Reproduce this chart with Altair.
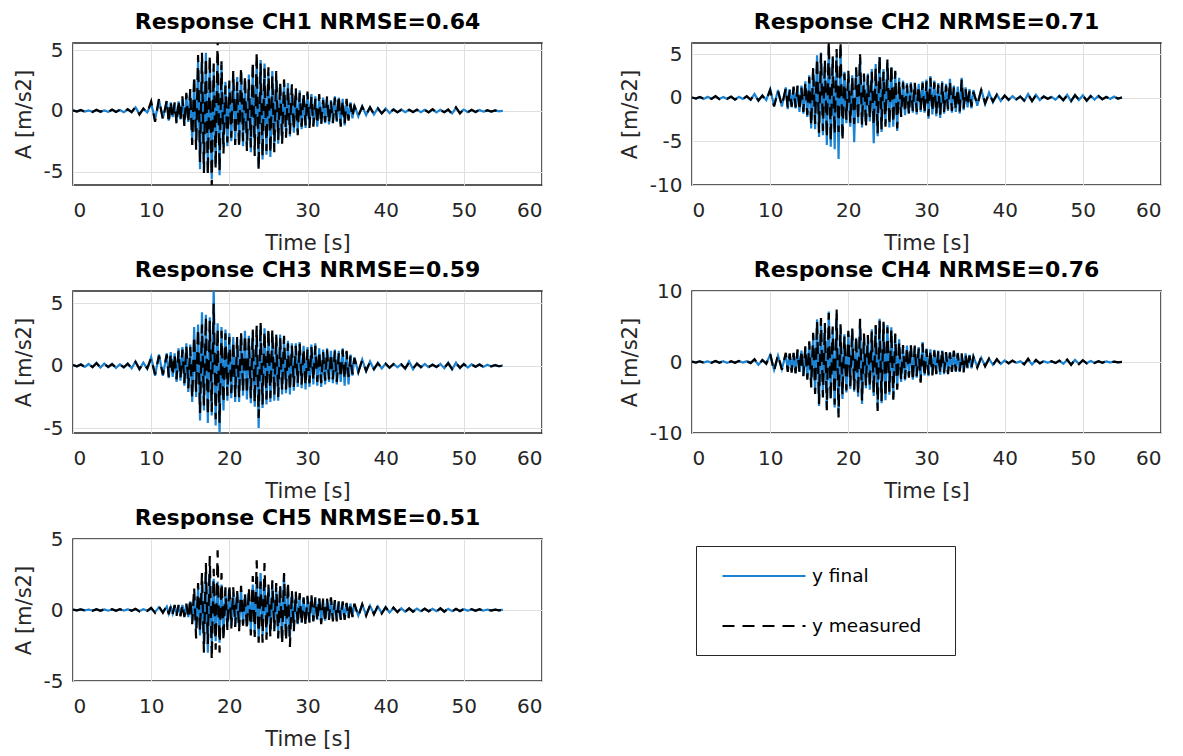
import altair as alt
import pandas as pd

# ---------------------------------------------------------------- sampling grid
# (start [s], step [s], number of samples) for the three parts of every record
SEGMENTS = [(0.0, 0.5, 25), (12.25, 0.25, 96), (36.5, 0.5, 38)]
time_s = [round(s + k * d, 2) for s, d, n in SEGMENTS for k in range(n)]

SERIES = ["y final", "y measured"]
channels = ["CH1", "CH2", "CH3", "CH4", "CH5"]
nrmse = [0.64, 0.71, 0.59, 0.76, 0.51]
x_ticks = [0, 10, 20, 30, 40, 50, 60]
y_domains = [[-6.1, 5.6], [-10, 6.3], [-5.4, 6.0], [-10, 10], [-5, 5]]
y_ticks = [[-5, 0, 5], [-10, -5, 0, 5], [-5, 0, 5], [-10, 0, 10], [-5, 0, 5]]

# ---------------------------------------------------------------- CH1
ch1_final = [
    0.03, -0.04, 0.06, -0.05, 0.04,
    -0.06, 0.08, -0.06, 0.05, -0.08,
    0.1, -0.07, 0.08, -0.1, 0.12,
    -0.09, 0.3, -0.25, 0.18, -0.12,
    0.6, -0.7, 0.9, -0.6, 0.8,
] + [
    -0.8, 0.7, -0.5, 0.6,
    -0.9, 0.8, -0.7, 1.0,
    -1.1, 1.3, -0.9, 1.6,
    -2.5, 2.6, -2.9, 4.2,
    -4.8, 4.4, -4.9, 4.8,
    -5.0, 4.2, -5.6, 3.5,
    -4.4, 4.5, -5.3, 3.8,
    -3.0, 2.4, -2.9, 2.2,
    -2.5, 3.0, -2.4, 2.8,
    -2.8, 3.2, -2.9, 2.5,
    -2.9, 3.0, -3.4, 3.6,
    -3.2, 4.1, -4.6, 4.2,
    -4.0, 3.9, -3.6, 3.2,
    -3.8, 3.3, -3.0, 2.9,
    -2.7, 2.2, -2.4, 2.3,
    -1.9, 2.3, -2.1, 1.9,
    -1.8, 1.6, -1.7, 1.7,
    -1.5, 1.3, -1.4, 1.4,
    -1.2, 1.4, -1.1, 1.2,
    -1.3, 1.1, -1.0, 1.1,
    -1.0, 1.0, -1.1, 0.9,
    -0.9, 1.2, -0.9, 1.1,
    -1.1, 1.0, -1.2, 0.8,
    -0.7, 0.7, -0.6, 0.5,
] + [
    -0.45, 0.4, -0.35, 0.3, -0.3, 0.25, -0.2, 0.2,
    -0.18, 0.15, -0.12, 0.12, -0.1, 0.1, -0.1, 0.12,
    -0.1, 0.1, -0.1, 0.12, -0.12, 0.1, -0.1, 0.1,
    -0.2, 0.25, -0.15, 0.12, -0.1, 0.08, -0.1, 0.08,
    -0.06, 0.05, -0.05, 0.04, -0.03, 0.02,
]
ch1_measured = [
    0.05, -0.05, 0.08, -0.06, 0.05,
    -0.08, 0.1, -0.07, 0.06, -0.1,
    0.12, -0.08, 0.1, -0.12, 0.15,
    -0.1, 0.35, -0.3, 0.2, -0.15,
    0.8, -0.9, 1.0, -0.7, 0.9,
] + [
    -1.0, 0.8, -0.6, 0.7,
    -1.1, 0.9, -0.8, 1.2,
    -1.3, 1.5, -1.0, 1.8,
    -2.8, 2.9, -3.2, 4.6,
    -4.2, 4.8, -5.1, 4.4,
    -5.3, 4.6, -6.2, 3.9,
    -4.8, 6.0, -5.0, 4.1,
    -3.5, 2.1, -2.6, 2.5,
    -2.2, 3.3, -2.8, 2.4,
    -3.0, 3.6, -2.5, 2.9,
    -3.3, 2.6, -3.0, 4.1,
    -3.7, 4.9, -4.9, 3.9,
    -3.8, 3.5, -3.3, 3.6,
    -3.5, 2.9, -3.4, 3.3,
    -2.4, 2.4, -2.7, 2.6,
    -2.2, 2.0, -1.9, 2.2,
    -1.6, 1.9, -2.0, 1.5,
    -1.3, 1.5, -1.2, 1.6,
    -1.4, 1.2, -1.3, 1.0,
    -1.1, 1.4, -1.2, 0.9,
    -0.9, 1.2, -1.0, 0.8,
    -1.0, 1.1, -0.8, 1.3,
    -1.3, 0.9, -1.1, 1.0,
    -0.8, 0.6, -0.5, 0.4,
] + [
    -0.4, 0.35, -0.3, 0.3, -0.25, 0.2, -0.2, 0.15,
    -0.15, 0.12, -0.1, 0.1, -0.12, 0.1, -0.08, 0.1,
    -0.1, 0.08, -0.12, 0.15, -0.1, 0.08, -0.1, 0.12,
    -0.25, 0.3, -0.2, 0.15, -0.12, 0.1, -0.08, 0.1,
    -0.1, 0.06, -0.05, 0.05, -0.04, 0.02,
]

# ---------------------------------------------------------------- CH2
ch2_final = [
    0.04, -0.06, 0.08, -0.12, 0.12,
    -0.1, 0.18, -0.12, 0.1, -0.12,
    0.12, -0.18, 0.12, -0.12, 0.18,
    -0.22, 0.45, -0.35, 0.3, -0.25,
    1.0, -0.9, 0.9, -1.0, 1.2,
] + [
    -1.3, 1.0, -1.1, 1.2,
    -1.2, 1.3, -1.6, 1.4,
    -1.8, 1.9, -2.2, 2.6,
    -3.5, 3.3, -3.6, 4.9,
    -4.5, 5.2, -4.3, 4.0,
    -5.4, 6.0, -5.6, 4.5,
    -5.9, 4.9, -7.0, 5.6,
    -4.3, 3.0, -2.9, 2.7,
    -3.3, 2.6, -5.1, 3.2,
    -2.9, 4.6, -3.4, 2.5,
    -3.0, 2.8, -2.7, 3.3,
    -5.2, 3.9, -4.4, 4.7,
    -3.9, 3.3, -3.0, 4.0,
    -3.4, 3.5, -3.3, 2.9,
    -3.8, 2.3, -2.0, 2.0,
    -2.0, 1.7, -1.8, 1.8,
    -1.7, 1.6, -1.9, 1.6,
    -1.6, 1.9, -1.7, 2.1,
    -2.4, 2.5, -1.9, 2.0,
    -2.1, 1.7, -2.3, 1.9,
    -1.8, 1.6, -1.5, 2.2,
    -1.7, 1.4, -1.6, 1.3,
    -1.8, 2.3, -1.4, 1.2,
    -1.1, 1.0, -1.2, 0.9,
] + [
    -0.9, 1.0, -0.7, 0.6, -0.5, 0.4, -0.35, 0.3,
    -0.25, 0.2, -0.2, 0.18, -0.35, 0.45, -0.4, 0.35,
    -0.25, 0.2, -0.12, 0.12, -0.2, 0.25, -0.3, 0.35,
    -0.4, 0.35, -0.25, 0.3, -0.35, 0.25, -0.2, 0.25,
    -0.18, 0.12, -0.12, 0.15, -0.1, 0.06,
]
ch2_measured = [
    0.05, -0.08, 0.1, -0.1, 0.15,
    -0.12, 0.2, -0.15, 0.12, -0.1,
    0.15, -0.2, 0.1, -0.15, 0.2,
    -0.2, 0.4, -0.3, 0.25, -0.3,
    0.9, -1.0, 0.8, -0.9, 1.1,
] + [
    -1.2, 0.9, -1.0, 1.3,
    -1.1, 1.4, -1.5, 1.2,
    -1.6, 1.8, -2.0, 2.4,
    -3.2, 3.5, -3.0, 4.6,
    -4.0, 5.1, -3.8, 4.4,
    -4.6, 6.5, -5.0, 4.8,
    -4.2, 5.6, -3.9, 6.5,
    -5.0, 2.8, -2.5, 3.1,
    -2.9, 2.4, -3.0, 3.5,
    -2.6, 5.0, -3.1, 2.8,
    -3.4, 2.6, -2.4, 3.0,
    -3.2, 3.5, -4.1, 4.9,
    -3.6, 3.0, -3.3, 4.4,
    -3.1, 3.8, -2.9, 3.1,
    -3.5, 2.0, -2.2, 1.8,
    -1.7, 1.5, -1.9, 1.6,
    -1.5, 1.8, -1.6, 1.4,
    -1.4, 1.7, -1.8, 1.9,
    -2.1, 2.3, -1.6, 1.8,
    -1.9, 1.5, -2.0, 1.7,
    -1.6, 1.4, -1.3, 1.9,
    -1.5, 1.2, -1.4, 1.1,
    -1.6, 2.1, -1.2, 1.0,
    -0.9, 0.8, -1.0, 0.7,
] + [
    -0.8, 0.9, -0.6, 0.5, -0.4, 0.35, -0.3, 0.25,
    -0.2, 0.2, -0.15, 0.15, -0.3, 0.4, -0.35, 0.3,
    -0.2, 0.15, -0.1, 0.1, -0.15, 0.2, -0.25, 0.3,
    -0.35, 0.3, -0.2, 0.25, -0.3, 0.2, -0.15, 0.2,
    -0.15, 0.1, -0.1, 0.12, -0.08, 0.05,
]

# ---------------------------------------------------------------- CH3
ch3_final = [
    0.06, -0.06, 0.12, -0.1, 0.15,
    -0.12, 0.25, -0.15, 0.18, -0.12,
    0.15, -0.18, 0.12, -0.15, 0.18,
    -0.2, 0.35, -0.3, 0.25, -0.25,
    0.7, -0.8, 0.9, -0.8, 1.0,
] + [
    -1.0, 1.1, -0.9, 1.0,
    -1.3, 1.4, -1.2, 1.5,
    -1.6, 1.8, -2.1, 1.7,
    -2.9, 3.1, -2.5, 3.3,
    -4.4, 4.3, -3.6, 4.1,
    -4.6, 3.9, -4.0, 6.2,
    -4.8, 3.4, -5.6, 3.1,
    -3.6, 2.9, -2.8, 2.6,
    -2.6, 2.3, -2.9, 2.1,
    -2.9, 2.5, -2.4, 2.8,
    -2.7, 2.4, -3.0, 2.7,
    -3.3, 2.9, -5.0, 3.2,
    -3.4, 3.0, -3.1, 2.7,
    -2.9, 2.6, -2.8, 2.3,
    -2.8, 2.5, -2.3, 2.2,
    -2.2, 2.0, -2.3, 1.8,
    -2.0, 1.8, -1.7, 1.9,
    -1.8, 1.6, -1.9, 1.5,
    -1.7, 1.7, -1.5, 1.8,
    -1.6, 1.4, -1.7, 1.3,
    -1.5, 1.4, -1.3, 1.2,
    -1.4, 1.3, -1.5, 1.2,
    -1.3, 1.4, -1.6, 1.1,
    -1.5, 0.9, -0.8, 0.7,
] + [
    -0.55, 0.5, -0.45, 0.35, -0.3, 0.25, -0.22, 0.18,
    -0.18, 0.15, -0.12, 0.12, -0.25, 0.35, -0.28, 0.2,
    -0.15, 0.15, -0.12, 0.1, -0.12, 0.15, -0.2, 0.25,
    -0.3, 0.25, -0.2, 0.15, -0.15, 0.12, -0.1, 0.12,
    -0.1, 0.08, -0.06, 0.06, -0.05, 0.03,
]
ch3_measured = [
    0.05, -0.05, 0.1, -0.08, 0.12,
    -0.1, 0.2, -0.12, 0.15, -0.1,
    0.12, -0.15, 0.1, -0.12, 0.15,
    -0.18, 0.3, -0.25, 0.2, -0.2,
    0.6, -0.7, 0.8, -0.7, 0.9,
] + [
    -0.9, 1.0, -0.8, 0.9,
    -1.1, 1.2, -1.0, 1.3,
    -1.4, 1.6, -1.8, 1.5,
    -2.6, 2.4, -2.1, 3.0,
    -3.8, 3.3, -3.2, 3.9,
    -4.0, 3.6, -3.7, 5.0,
    -4.3, 3.0, -4.6, 2.8,
    -3.0, 2.6, -2.4, 2.3,
    -2.2, 2.0, -2.5, 2.3,
    -2.6, 2.7, -2.1, 2.5,
    -2.3, 2.2, -2.6, 2.9,
    -3.0, 3.2, -4.2, 3.5,
    -3.1, 2.8, -2.7, 3.0,
    -2.6, 2.9, -2.4, 2.5,
    -2.5, 2.2, -2.0, 2.4,
    -1.9, 1.8, -2.0, 1.6,
    -1.7, 1.6, -1.4, 1.8,
    -1.5, 1.4, -1.6, 1.3,
    -1.4, 1.5, -1.2, 1.6,
    -1.3, 1.2, -1.4, 1.1,
    -1.2, 1.3, -1.1, 1.0,
    -1.1, 1.2, -1.3, 1.0,
    -1.0, 1.3, -1.1, 1.2,
    -0.9, 0.8, -0.7, 0.6,
] + [
    -0.5, 0.45, -0.4, 0.3, -0.25, 0.2, -0.2, 0.15,
    -0.15, 0.12, -0.1, 0.1, -0.2, 0.25, -0.2, 0.15,
    -0.1, 0.12, -0.1, 0.08, -0.1, 0.12, -0.15, 0.2,
    -0.25, 0.2, -0.15, 0.12, -0.12, 0.1, -0.08, 0.1,
    -0.08, 0.06, -0.05, 0.05, -0.04, 0.02,
]

# ---------------------------------------------------------------- CH4
ch4_final = [
    0.04, -0.06, 0.08, -0.08, 0.1,
    -0.1, 0.12, -0.08, 0.1, -0.12,
    0.08, -0.1, 0.12, -0.08, 0.1,
    -0.12, 0.35, -0.4, 0.25, -0.2,
    1.0, -1.1, 0.9, -1.0, 1.1,
] + [
    -1.2, 1.1, -1.3, 1.2,
    -1.5, 1.6, -1.4, 1.6,
    -1.9, 2.0, -2.3, 2.7,
    -3.3, 3.8, -4.2, 6.0,
    -6.2, 5.9, -4.6, 5.2,
    -6.5, 7.1, -5.1, 4.6,
    -6.4, 6.8, -7.2, 4.9,
    -5.2, 3.9, -4.3, 4.0,
    -3.8, 4.5, -4.2, 3.4,
    -4.9, 5.8, -5.9, 3.7,
    -3.7, 3.5, -3.9, 4.6,
    -4.8, 5.0, -6.5, 6.1,
    -5.8, 5.4, -5.4, 5.2,
    -4.6, 4.9, -5.0, 3.8,
    -3.6, 3.2, -2.8, 2.2,
    -2.6, 2.3, -2.0, 2.3,
    -2.5, 2.1, -2.2, 2.1,
    -2.7, 2.8, -1.9, 1.9,
    -2.0, 1.8, -1.7, 1.7,
    -1.6, 1.6, -1.8, 1.6,
    -1.7, 1.3, -1.5, 1.4,
    -1.3, 1.5, -1.4, 1.3,
    -1.4, 1.1, -1.3, 1.2,
    -0.9, 1.0, -0.9, 0.8,
] + [
    -0.7, 0.6, -0.55, 0.45, -0.4, 0.35, -0.28, 0.22,
    -0.18, 0.18, -0.12, 0.1, -0.3, 0.4, -0.35, 0.25,
    -0.18, 0.12, -0.1, 0.08, -0.12, 0.18, -0.25, 0.3,
    -0.35, 0.3, -0.25, 0.2, -0.18, 0.15, -0.12, 0.1,
    -0.08, 0.08, -0.06, 0.05, -0.04, 0.02,
]
ch4_measured = [
    0.05, -0.08, 0.1, -0.1, 0.12,
    -0.12, 0.15, -0.1, 0.12, -0.15,
    0.1, -0.12, 0.15, -0.1, 0.12,
    -0.15, 0.4, -0.45, 0.3, -0.25,
    1.2, -1.3, 1.0, -1.1, 1.3,
] + [
    -1.4, 1.2, -1.5, 1.3,
    -1.6, 1.8, -1.5, 1.7,
    -2.0, 2.2, -2.5, 2.9,
    -3.6, 4.1, -4.5, 5.8,
    -5.9, 6.2, -5.0, 5.5,
    -6.8, 6.9, -5.4, 5.0,
    -6.0, 7.4, -7.8, 5.3,
    -4.7, 3.6, -4.0, 4.4,
    -3.4, 4.8, -3.9, 3.7,
    -4.6, 6.1, -5.5, 4.0,
    -3.3, 3.8, -3.6, 4.3,
    -4.5, 5.2, -6.9, 5.9,
    -5.5, 5.7, -5.0, 4.9,
    -4.2, 4.6, -5.3, 4.0,
    -3.9, 2.9, -2.6, 2.4,
    -2.4, 2.1, -2.2, 2.5,
    -2.7, 2.3, -2.0, 1.9,
    -2.9, 2.6, -2.1, 1.8,
    -1.8, 1.7, -1.9, 1.6,
    -1.7, 1.5, -1.6, 1.8,
    -1.5, 1.4, -1.7, 1.3,
    -1.4, 1.6, -1.3, 1.2,
    -1.3, 1.2, -1.5, 1.1,
    -1.0, 0.9, -0.8, 0.7,
] + [
    -0.8, 0.7, -0.6, 0.5, -0.45, 0.4, -0.3, 0.25,
    -0.2, 0.2, -0.15, 0.12, -0.35, 0.45, -0.4, 0.3,
    -0.2, 0.15, -0.12, 0.1, -0.15, 0.2, -0.3, 0.35,
    -0.4, 0.35, -0.3, 0.25, -0.2, 0.2, -0.15, 0.12,
    -0.1, 0.1, -0.08, 0.06, -0.05, 0.03,
]

# ---------------------------------------------------------------- CH5
ch5_final = [
    0.02, -0.03, 0.04, -0.03, 0.04,
    -0.04, 0.05, -0.04, 0.04, -0.05,
    0.04, -0.04, 0.05, -0.04, 0.05,
    -0.05, 0.06, -0.08, 0.06, -0.05,
    0.1, -0.15, 0.2, -0.15, 0.25,
] + [
    -0.25, 0.2, -0.25, 0.3,
    -0.3, 0.3, -0.35, 0.35,
    -0.4, 0.4, -0.5, 0.6,
    -0.8, 1.0, -1.3, 1.5,
    -1.8, 2.0, -2.4, 2.6,
    -3.0, 2.8, -2.6, 2.2,
    -2.2, 2.0, -2.3, 1.8,
    -1.6, 1.4, -1.2, 1.5,
    -1.1, 1.3, -1.0, 1.2,
    -1.2, 1.4, -1.0, 1.1,
    -1.1, 1.3, -1.4, 1.8,
    -1.6, 2.2, -1.9, 2.6,
    -1.8, 2.2, -1.7, 1.6,
    -1.5, 1.8, -1.3, 1.6,
    -1.7, 1.6, -2.1, 2.5,
    -1.8, 1.5, -1.9, 1.2,
    -1.2, 1.1, -1.0, 1.0,
    -0.9, 0.8, -0.9, 0.85,
    -0.8, 0.9, -0.75, 0.8,
    -0.7, 0.8, -0.85, 0.7,
    -0.75, 0.7, -0.6, 0.75,
    -0.65, 0.6, -0.7, 0.55,
    -0.6, 0.55, -0.6, 0.45,
    -0.5, 0.45, -0.45, 0.4,
] + [
    -0.4, 0.38, -0.35, 0.3, -0.28, 0.25, -0.22, 0.2,
    -0.18, 0.15, -0.14, 0.12, -0.12, 0.1, -0.1, 0.1,
    -0.09, 0.08, -0.08, 0.08, -0.08, 0.1, -0.1, 0.08,
    -0.08, 0.07, -0.06, 0.06, -0.05, 0.05, -0.04, 0.04,
    -0.04, 0.03, -0.03, 0.03, -0.02, 0.02,
]
ch5_measured = [
    0.03, -0.03, 0.05, -0.04, 0.05,
    -0.05, 0.06, -0.05, 0.05, -0.06,
    0.05, -0.05, 0.06, -0.05, 0.06,
    -0.06, 0.08, -0.1, 0.08, -0.06,
    0.15, -0.2, 0.25, -0.2, 0.3,
] + [
    -0.3, 0.25, -0.3, 0.35,
    -0.4, 0.35, -0.45, 0.4,
    -0.5, 0.45, -0.6, 0.8,
    -1.0, 1.6, -2.0, 1.9,
    -1.5, 2.6, -3.0, 3.3,
    -2.4, 3.8, -3.5, 2.9,
    -2.8, 4.2, -3.0, 2.6,
    -2.2, 1.6, -1.4, 1.8,
    -1.3, 1.6, -1.2, 1.4,
    -1.5, 1.7, -1.1, 1.2,
    -1.4, 1.6, -1.8, 2.4,
    -1.9, 3.5, -2.3, 2.0,
    -2.3, 3.3, -2.1, 1.8,
    -1.9, 2.1, -1.5, 1.9,
    -2.0, 1.8, -2.4, 2.6,
    -2.2, 2.0, -2.6, 1.4,
    -1.5, 1.3, -1.1, 1.2,
    -1.0, 0.9, -1.1, 1.0,
    -0.9, 1.1, -0.8, 0.9,
    -0.8, 0.9, -1.0, 0.8,
    -0.9, 0.8, -0.7, 0.9,
    -0.8, 0.7, -0.8, 0.6,
    -0.7, 0.6, -0.7, 0.5,
    -0.6, 0.5, -0.5, 0.45,
] + [
    -0.45, 0.4, -0.4, 0.35, -0.3, 0.3, -0.25, 0.2,
    -0.2, 0.18, -0.15, 0.15, -0.12, 0.12, -0.12, 0.1,
    -0.1, 0.1, -0.1, 0.1, -0.1, 0.12, -0.12, 0.1,
    -0.1, 0.08, -0.08, 0.08, -0.06, 0.06, -0.05, 0.05,
    -0.05, 0.04, -0.04, 0.03, -0.03, 0.02,
]

finals = [ch1_final, ch2_final, ch3_final, ch4_final, ch5_final]
measureds = [ch1_measured, ch2_measured, ch3_measured, ch4_measured, ch5_measured]

# ---------------------------------------------------------------- style
FONT = "DejaVu Sans"
BLUE = "#1a83d4"
PANEL_W, PANEL_H = 469, 142
TITLE_OFFSETS = [6, 9, 9, -1, -1]
# a few no-break spaces (kept by a zero-width space) widen the legend box on the right
LEGEND_LABEL = "datum.label + '\u00a0\u00a0\u00a0\u00a0\u00a0\u200b'"
LEGEND_TITLE = "\u00a0"


def panel(i):
    n = len(time_s)
    df = pd.DataFrame({
        "t": time_s + time_s,
        "a": finals[i] + measureds[i],
        "series": [SERIES[0]] * n + [SERIES[1]] * n,
    })
    legend = alt.Legend(title=LEGEND_TITLE, labelExpr=LEGEND_LABEL)
    return alt.Chart(
        df,
        title=alt.Title(f"Response {channels[i]} NRMSE={nrmse[i]:.2f}", offset=TITLE_OFFSETS[i]),
    ).mark_line(clip=True, strokeWidth=2.2).encode(
        x=alt.X("t:Q", scale=alt.Scale(domain=[0, 60], nice=False),
                axis=alt.Axis(values=x_ticks, title="Time [s]")),
        y=alt.Y("a:Q", scale=alt.Scale(domain=y_domains[i], nice=False, zero=False),
                axis=alt.Axis(values=y_ticks[i], title="A [m/s2]",
                              labelExpr="toString(datum.value)")),
        color=alt.Color("series:N", scale=alt.Scale(domain=SERIES, range=[BLUE, "#000000"]),
                        legend=legend),
        strokeDash=alt.StrokeDash("series:N", scale=alt.Scale(domain=SERIES, range=[[1, 0], [12, 8]]),
                                  legend=legend),
    ).properties(width=PANEL_W, height=PANEL_H)


chart = alt.concat(
    *[panel(i) for i in range(5)],
    columns=2, spacing={"row": 106, "column": 150}, bounds="flush",
).properties(
    padding={"left": 12, "top": 10, "right": 5, "bottom": 5},
    background="white",
).configure_view(
    stroke="#262626", strokeWidth=1.5,
).configure_axis(
    labelFont=FONT, labelFontSize=20, labelColor="#262626",
    titleFont=FONT, titleFontSize=21, titleFontWeight="normal", titleColor="#262626",
    gridColor="#dfdfdf", gridWidth=1, domain=False, ticks=False, tickSize=0,
).configure_axisX(
    labelPadding=15, titlePadding=12,
).configure_axisY(
    labelPadding=10, titlePadding=9,
).configure_title(
    font=FONT, fontSize=22, fontWeight="bold", color="#000000",
    anchor="middle", frame="group", baseline="alphabetic",
).configure_legend(
    orient="none", legendX=623, legendY=503, padding=4,
    strokeColor="#262626", fillColor="white",
    symbolType="M-1.66,0H1.66", symbolSize=2500, symbolStrokeWidth=2,
    symbolOffset=38, labelOffset=22,
    labelFont=FONT, labelFontSize=18.5, labelColor="#000000",
    rowPadding=14, titleOrient="bottom", titleFontSize=10, titlePadding=5,
)

chart.save("out.html", embed_options={"renderer": "svg", "actions": False})
